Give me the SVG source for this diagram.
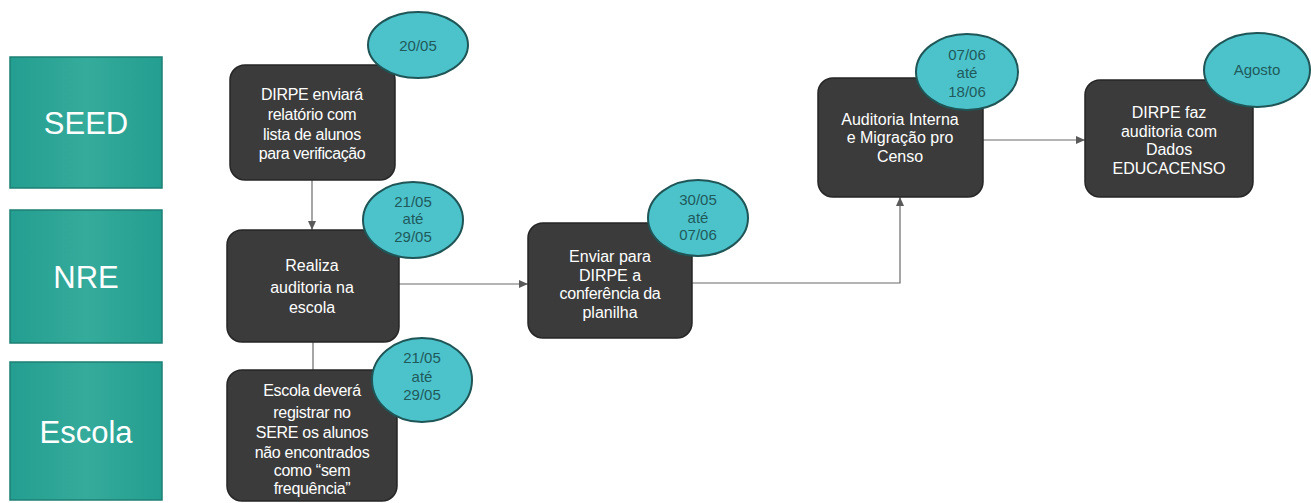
<svg xmlns="http://www.w3.org/2000/svg" width="1311" height="503" viewBox="0 0 1311 503">
<style>
.lane{stroke:#1e7f74;stroke-width:1.5}
.lanet{font-family:"Liberation Sans",Arial,sans-serif;font-size:31px;fill:#ffffff;text-anchor:middle}
.box{fill:#3b3b3b;stroke:#262626;stroke-width:1.5}
.bt{font-family:"Liberation Sans",Arial,sans-serif;font-size:16px;fill:#ffffff;text-anchor:middle}
.oval{fill:#4cc3cb;stroke:#1f5556;stroke-width:2}
.ot{font-family:"Liberation Sans",Arial,sans-serif;font-size:15px;fill:#1f5a5c;text-anchor:middle}
.con{fill:none;stroke:#6a6a6a;stroke-width:1.2}
</style>
<defs>
<linearGradient id="tg" x1="0" y1="0" x2="1" y2="0">
<stop offset="0" stop-color="#239e90"/>
<stop offset="0.5" stop-color="#35ab9b"/>
<stop offset="1" stop-color="#239e90"/>
</linearGradient>
<marker id="ah" markerWidth="10" markerHeight="10" refX="9" refY="5" orient="auto" markerUnits="userSpaceOnUse">
<path d="M0,1 L9,5 L0,9 Z" fill="#5a5a5a"/>
</marker>
</defs>
<rect width="1311" height="503" fill="#ffffff"/>

<g id="lane-seed">
<rect class="lane" x="10" y="57" width="152" height="131" fill="url(#tg)"/>
<text class="lanet" x="86" y="134">SEED</text>
</g>
<g id="lane-nre">
<rect class="lane" x="10" y="210" width="152" height="133" fill="url(#tg)"/>
<text class="lanet" x="86" y="288">NRE</text>
</g>
<g id="lane-escola">
<rect class="lane" x="10" y="362" width="152" height="138" fill="url(#tg)"/>
<text class="lanet" x="86" y="443">Escola</text>
</g>

<g id="connectors">
<line class="con" x1="312" y1="180" x2="312" y2="230" marker-end="url(#ah)"/>
<line class="con" x1="313" y1="342" x2="313" y2="370"/>
<line class="con" x1="399" y1="284" x2="528" y2="284" marker-end="url(#ah)"/>
<path class="con" d="M692,283 L900,283 L900,197" marker-end="url(#ah)"/>
<line class="con" x1="983" y1="140" x2="1085" y2="140" marker-end="url(#ah)"/>
</g>

<g id="n1">
<rect class="box" x="230" y="65" width="165" height="115" rx="15"/>
<text class="bt" x="312" y="100" letter-spacing="-0.3">DIRPE enviará</text>
<text class="bt" x="312" y="120" letter-spacing="-0.3">relatório com</text>
<text class="bt" x="312" y="140" letter-spacing="-0.3">lista de alunos</text>
<text class="bt" x="312" y="159" letter-spacing="-0.4">para verificação</text>
<ellipse class="oval" cx="418" cy="45" rx="50" ry="33"/>
<text class="ot" x="418" y="51">20/05</text>
</g>

<g id="n2">
<rect class="box" x="227" y="230" width="172" height="112" rx="15"/>
<text class="bt" x="312" y="271">Realiza</text>
<text class="bt" x="312" y="293">auditoria  na</text>
<text class="bt" x="312" y="313">escola</text>
<ellipse class="oval" cx="413" cy="220" rx="50" ry="38"/>
<text class="ot" x="413" y="207">21/05</text>
<text class="ot" x="413" y="224">até</text>
<text class="ot" x="413" y="242">29/05</text>
</g>

<g id="n3">
<rect class="box" x="227" y="370" width="170" height="131" rx="15"/>
<text class="bt" x="312" y="396" letter-spacing="-0.3">Escola deverá</text>
<text class="bt" x="312" y="418" letter-spacing="-0.3">registrar no</text>
<text class="bt" x="312" y="438" letter-spacing="-0.3">SERE os alunos</text>
<text class="bt" x="312" y="458" letter-spacing="-0.3">não encontrados</text>
<text class="bt" x="312" y="476" letter-spacing="-0.3">como “sem</text>
<text class="bt" x="312" y="494" letter-spacing="-0.3">frequência”</text>
<ellipse class="oval" cx="422" cy="380" rx="50" ry="42"/>
<text class="ot" x="422" y="363">21/05</text>
<text class="ot" x="422" y="382">até</text>
<text class="ot" x="422" y="400">29/05</text>
</g>

<g id="n4">
<rect class="box" x="528" y="223" width="164" height="115" rx="15"/>
<text class="bt" x="610" y="262">Enviar para</text>
<text class="bt" x="610" y="281">DIRPE a</text>
<text class="bt" x="610" y="299" letter-spacing="-0.3">conferência da</text>
<text class="bt" x="610" y="318">planilha</text>
<ellipse class="oval" cx="698" cy="218" rx="50" ry="38"/>
<text class="ot" x="698" y="205">30/05</text>
<text class="ot" x="698" y="223">até</text>
<text class="ot" x="698" y="240">07/06</text>
</g>

<g id="n5">
<rect class="box" x="818" y="78" width="165" height="119" rx="15"/>
<text class="bt" x="900" y="125" font-size="15">Auditoria Interna</text>
<text class="bt" x="900" y="143" font-size="15">e Migração pro</text>
<text class="bt" x="900" y="162" font-size="15">Censo</text>
<ellipse class="oval" cx="967" cy="72" rx="51" ry="38"/>
<text class="ot" x="967" y="60">07/06</text>
<text class="ot" x="967" y="78">até</text>
<text class="ot" x="967" y="97">18/06</text>
</g>

<g id="n6">
<rect class="box" x="1085" y="80" width="168" height="117" rx="15"/>
<text class="bt" x="1169" y="118">DIRPE faz</text>
<text class="bt" x="1169" y="137">auditoria com</text>
<text class="bt" x="1169" y="155">Dados</text>
<text class="bt" x="1169" y="174">EDUCACENSO</text>
<ellipse class="oval" cx="1257" cy="70" rx="53" ry="37"/>
<text class="ot" x="1257" y="75">Agosto</text>
</g>
</svg>
